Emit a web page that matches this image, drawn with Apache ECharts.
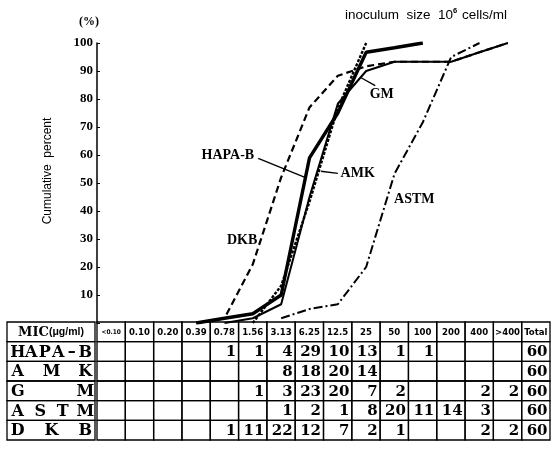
<!DOCTYPE html>
<html><head><meta charset="utf-8">
<script src="https://cdn.jsdelivr.net/npm/echarts@6/dist/echarts.min.js"></script>
<style>html,body{margin:0;padding:0;background:#fff}#c{width:558px;height:456px}</style>
</head><body><div id="c"></div>
<script>
// ---- data ----
const micLabels = ['<0.10','0.10','0.20','0.39','0.78','1.56','3.13','6.25','12.5','25','50','100','200','400','>400'];
const totalLabel = 'Total';
const drugs = ['HAPA-B','AMK','GM','ASTM','DKB'];
const headerLabel = 'MIC';
const yTicks = [0,10,20,30,40,50,60,70,80,90,100];

// counts per MIC column (table)
const countsHAPAB = [null,null,null,null,1,1,4,29,10,13,1,1,null,null,null];
const countsAMK   = [null,null,null,null,null,null,8,18,20,14,null,null,null,null,null];
const countsGM    = [null,null,null,null,null,1,3,23,20,7,2,null,null,2,2];
const countsASTM  = [null,null,null,null,null,null,1,2,1,8,20,11,14,3,null];
const countsDKB   = [null,null,null,null,1,11,22,12,7,2,1,null,null,2,2];
const totals      = [60,60,60,60,60];

// cumulative percent curves
const cumHAPAB = [null,null,null,0,1.7,3.3,10,59,75,96.7,98.3,100,null,null,null];
const cumAMK   = [null,null,null,null,null,0,13.3,43.3,76.7,100,null,null,null,null,null];
const cumGM    = [null,null,null,null,0,1.7,6.7,45,78.3,90,93.3,93.3,93.3,96.7,100];
const cumASTM  = [null,null,null,null,null,null,1.7,5,6.7,20,53.3,71.7,95,100,null];
const cumDKB   = [null,null,null,0,1.7,21,52,77,88.3,91.7,93.3,93.3,93.3,96.7,100];

// ---- build ----
const countRows = [countsHAPAB, countsAMK, countsGM, countsASTM, countsDKB];
const cumRows = [cumHAPAB, cumAMK, cumGM, cumASTM, cumDKB];
const rowKeys = ['header'].concat(drugs);
const tableCols = micLabels.concat([totalLabel]);

const SERIF = '"Liberation Serif", "DejaVu Serif", serif';
const DSERIF = '"DejaVu Serif", "Liberation Serif", serif';
const COND = '"DejaVu Sans Condensed", "DejaVu Sans", sans-serif';
const SANS = '"Liberation Sans", Arial, sans-serif';

function toPts(arr){
  const out = [];
  arr.forEach((v,i)=>{ if(v!==null) out.push([i+0.5, v]); });
  return out;
}

// table cells
const cells = [];
tableCols.forEach((lab,c)=>cells.push({c:c, r:0, text:lab, kind:'head'}));
countRows.forEach((row,ri)=>{
  tableCols.forEach((lab,c)=>{
    let t = c < micLabels.length ? row[c] : totals[ri];
    cells.push({c:c, r:ri+1, text: t===null ? '' : String(t), kind:'num'});
  });
});
const nameCells = rowKeys.map((k,r)=>({c:0, r:r, text: r===0 ? headerLabel : k, kind: r===0?'head':'name'}));

function cellRect(api, c, r){
  const p = api.coord([c, r]);
  const s = api.size([1, 1]);
  return {x:p[0]-s[0]/2, y:p[1]-s[1]/2, w:s[0], h:s[1], cx:p[0], cy:p[1]};
}

function renderTable(params, api){
  const d = cells[params.dataIndex];
  const R = cellRect(api, d.c, d.r);
  const children = [{type:'rect', shape:{x:R.x, y:R.y, width:R.w, height:R.h},
    style:{fill:'none', stroke:'#000', lineWidth:1.3}}];
  if(d.text){
    if(d.kind==='head'){
      const small = d.text.charAt(0)==='<';
      children.push({type:'text', x:R.cx, y:R.cy+0.5,
        style:{text:d.text, font:'bold '+(small?6.5:9.5)+'px '+COND, fill:'#000', align:'center', verticalAlign:'middle'}});
    } else {
      children.push({type:'text', x:R.x+R.w-2.5, y:R.cy+1,
        style:{text:d.text, font:'bold 15px '+DSERIF, fill:'#000', align:'right', verticalAlign:'middle'}});
    }
  }
  return {type:'group', children:children};
}

function renderNames(params, api){
  const d = nameCells[params.dataIndex];
  const R = cellRect(api, d.c, d.r);
  const children = [{type:'rect', shape:{x:R.x, y:R.y, width:R.w, height:R.h},
    style:{fill:'none', stroke:'#000', lineWidth:1.3}}];
  if(d.kind==='head'){
    children.push({type:'text', x:R.cx, y:R.cy+0.5,
      style:{text:'{a|'+d.text+'}{b|(μg/ml)}', fill:'#000', align:'center', verticalAlign:'middle',
        rich:{a:{font:'bold 13px '+DSERIF, fill:'#000'}, b:{font:'bold 10.5px '+SANS, fill:'#000'}}}});
  } else {
    const letters = d.text.split('');
    const fs = 16, cw = fs*0.72;
    const left = R.x + 5 + cw/2, right = R.x + R.w - 4 - cw/2;
    letters.forEach((ch,i)=>{
      const x = letters.length===1 ? R.cx : left + (right-left)*i/(letters.length-1);
      children.push({type:'text', x:x, y:R.cy+1,
        style:{text:ch==='-'?'–':ch, font:'bold '+fs+'px '+DSERIF, fill:'#000', align:'center', verticalAlign:'middle'}});
    });
  }
  return {type:'group', children:children};
}

function annot(text, x, y){
  return {coord:[x,y], symbol:'rect', symbolSize:1, itemStyle:{color:'rgba(0,0,0,0)'},
    label:{show:true, position:'inside', formatter:text, color:'#000', fontFamily:SERIF, fontWeight:'bold', fontSize:14}};
}
function leader(x1,y1,x2,y2){
  return [{coord:[x1,y1]},{coord:[x2,y2]}];
}
const leaderStyle = {color:'#000', width:1.3, type:'solid'};

const lineStyles = [
  {color:'#000', width:3.4, type:'solid'},
  {color:'#000', width:2.4, type:[3,1.5]},
  {color:'#000', width:2, type:'solid'},
  {color:'#000', width:2, type:[9,3,2,3]},
  {color:'#000', width:2.2, type:[7,4]}
];
const annots = [
  {mp:[annot('HAPA-B', 4.62, 60)], ml:[leader(5.69,58.8,7.34,52)]},
  {mp:[annot('AMK', 9.2, 53.6)], ml:[leader(7.9,54.2,8.5,53.4)]},
  {mp:[annot('GM', 10.05, 81.5)], ml:[leader(9.32,87.6,9.82,84.8)]},
  {mp:[annot('ASTM', 11.2, 44)], ml:[]},
  {mp:[annot('DKB', 5.12, 29.6)], ml:[]}
];

const series = drugs.map((name,i)=>({
  name:name, type:'line', xAxisIndex:0, yAxisIndex:0,
  data: toPts(cumRows[i]), symbol:'none', lineStyle:lineStyles[i], z: 5 - i,
  animation:false, silent:true,
  markPoint:{data:annots[i].mp, animation:false, silent:true},
  markLine:{data:annots[i].ml, symbol:['none','none'], lineStyle:leaderStyle, label:{show:false}, animation:false, silent:true}
}));
series.push({type:'custom', xAxisIndex:1, yAxisIndex:1, coordinateSystem:'cartesian2d',
  data: cells.map(d=>[d.c, d.r]), renderItem: renderTable, animation:false, silent:true});
series.push({type:'custom', xAxisIndex:2, yAxisIndex:2, coordinateSystem:'cartesian2d',
  data: nameCells.map(d=>[d.c, d.r]), renderItem: renderNames, animation:false, silent:true});

const chart = echarts.init(document.getElementById('c'), null, {renderer:'canvas'});
chart.setOption({
  backgroundColor:'#fff',
  animation:false,
  grid:[
    {left:97, top:43, width:425, height:280},
    {left:97, top:322, width:453, height:118},
    {left:7, top:322, width:88, height:118}
  ],
  xAxis:[
    {type:'value', gridIndex:0, min:0, max:micLabels.length, show:false},
    {type:'category', gridIndex:1, data:tableCols, show:false},
    {type:'category', gridIndex:2, data:['name'], show:false}
  ],
  yAxis:[
    {type:'value', gridIndex:0, min:yTicks[0], max:yTicks[yTicks.length-1], interval:10,
      axisLine:{show:true, lineStyle:{color:'#000', width:1.5}},
      axisTick:{show:true, inside:true, length:3, lineStyle:{color:'#000', width:1}},
      splitLine:{show:false},
      axisLabel:{formatter:v=> v===0 ? '' : String(v), color:'#000', fontFamily:SERIF, fontWeight:'bold', fontSize:13, margin:4},
      name:'(%)', nameLocation:'end', nameGap:15,
      nameTextStyle:{color:'#000', fontFamily:SERIF, fontWeight:'bold', fontSize:12, padding:[0,16,0,0]}},
    {type:'category', gridIndex:1, data:rowKeys, inverse:true, show:false},
    {type:'category', gridIndex:2, data:rowKeys, inverse:true, show:false}
  ],
  graphic:[
    {type:'text', x:48, y:171, rotation:Math.PI/2,
      style:{text:'Cumulative  percent', font:'12px '+SANS, fill:'#000', align:'center', verticalAlign:'middle'}},
    {type:'text', x:345, y:15,
      style:{text:'{a|inoculum  size  10}{s|6}{a| cells/ml}', fill:'#000', align:'left', verticalAlign:'middle',
        rich:{a:{font:'13.5px '+SANS, fill:'#000'}, s:{font:'bold 7.5px '+SANS, fill:'#000', padding:[0,1,8,0]}}}}
  ],
  series:series
});
</script></body></html>
